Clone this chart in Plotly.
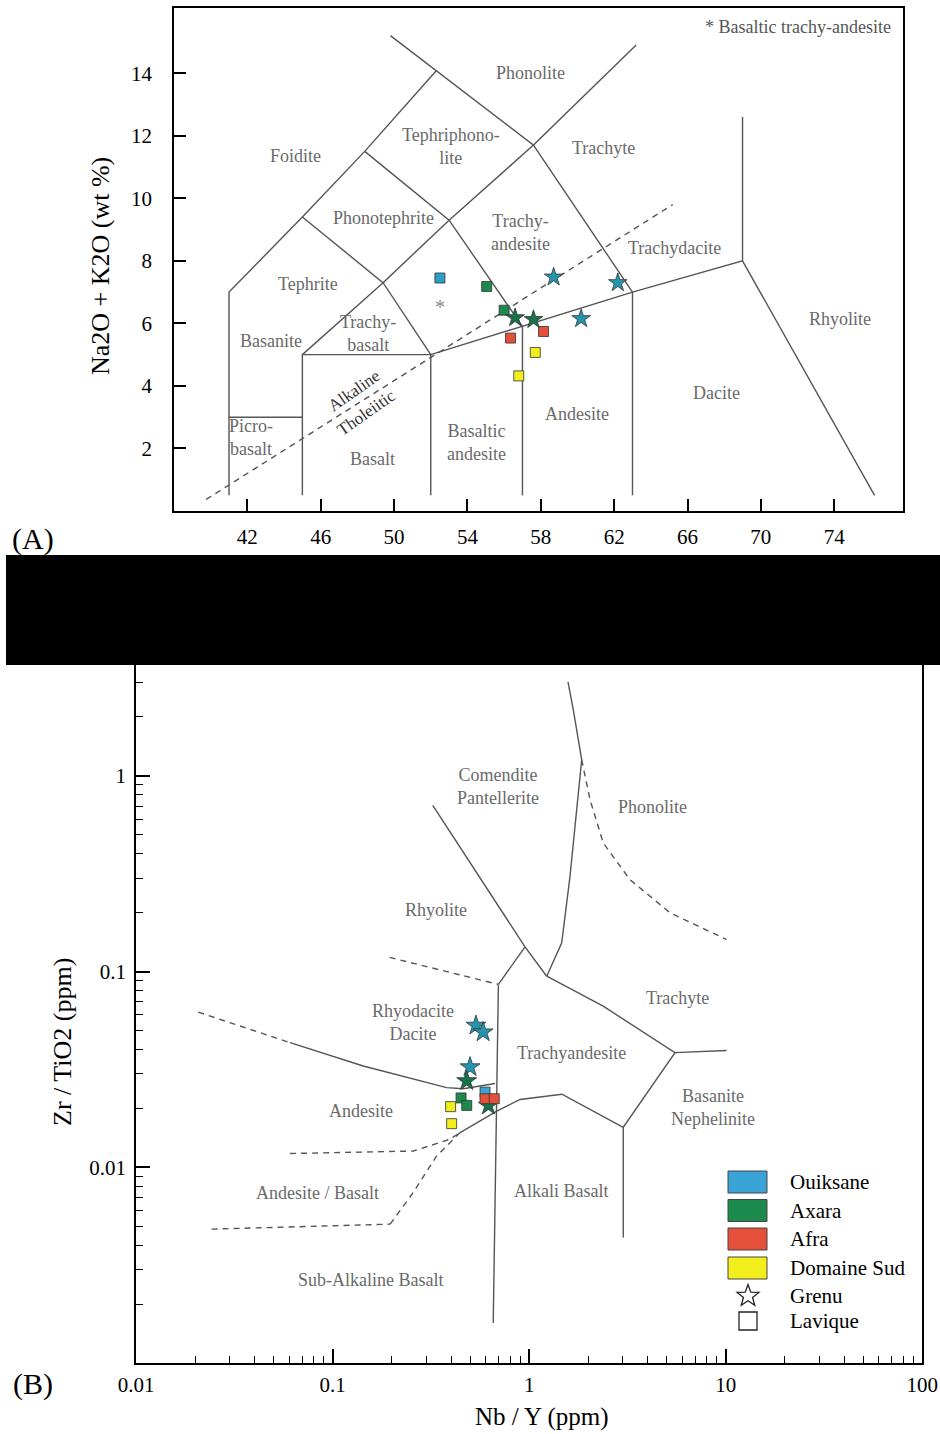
import math
import plotly.graph_objects as go

W, H = 940, 1434
OX, OY = 0, 0
FONT = "Liberation Serif"
LABEL_GRAY = "#6a6a6a"
LINE_GRAY = "#555555"

# ---------------- Panel A : TAS diagram (SiO2 vs Na2O+K2O) ----------------
tas_solid_lines = [
    [(41, 0.5), (41, 7), (45, 9.4), (48.4, 11.5), (52.3, 14.08)],
    [(49.8, 15.2), (52.3, 14.08), (57.6, 11.7), (63.2, 14.9)],
    [(41, 3), (45, 3)],
    [(45, 0.5), (45, 5), (52, 5), (52, 0.5)],
    [(45, 5), (49.4, 7.3), (52, 5)],
    [(45, 9.4), (49.4, 7.3), (53, 9.3), (57.6, 11.7)],
    [(48.4, 11.5), (53, 9.3), (57, 5.9)],
    [(52, 5), (57, 5.9), (63, 7), (69, 8), (76.2, 0.5)],
    [(57, 0.5), (57, 5.9)],
    [(63, 0.5), (63, 7), (57.6, 11.7)],
    [(69, 8), (69, 12.6)],
]
tas_dashed_line = [(39.75, 0.37), (65.2, 9.8)]

tas_labels = ["Phonolite", "Tephriphono-<br>lite", "Foidite", "Trachyte", "Phonotephrite",
              "Trachy-<br>andesite", "Trachydacite", "Tephrite", "Trachy-<br>basalt", "Basanite",
              "Rhyolite", "Dacite", "Andesite", "Basaltic<br>andesite", "Basalt", "Picro-<br>basalt"]
tas_label_x = [57.45, 53.1, 44.6, 61.4, 49.4, 56.9, 65.3, 45.3, 48.6, 43.3, 74.3, 67.6, 60.0, 54.5, 48.8, 42.2]
tas_label_y = [14.0, 11.65, 11.35, 11.6, 9.38, 8.9, 8.4, 7.26, 5.66, 5.44, 6.14, 3.78, 3.1, 2.18, 1.66, 2.34]

bta_marker = (52.5, 6.45)  # "*" Basaltic trachy-andesite

# samples (SiO2, Na2O+K2O)
a_ouik_lav_x, a_ouik_lav_y = [52.5], [7.45]
a_ouik_gre_x, a_ouik_gre_y = [58.7, 62.2, 60.2], [7.48, 7.3, 6.15]
a_axa_lav_x, a_axa_lav_y = [55.05, 56.0], [7.18, 6.42]
a_axa_gre_x, a_axa_gre_y = [56.6, 57.6], [6.18, 6.12]
a_afra_lav_x, a_afra_lav_y = [56.35, 58.15], [5.53, 5.74]
a_dsud_lav_x, a_dsud_lav_y = [57.7, 56.8], [5.07, 4.32]

a_xticks = [42, 46, 50, 54, 58, 62, 66, 70, 74]
a_yticks = [2, 4, 6, 8, 10, 12, 14]

# ---------------- Panel B : Zr/TiO2 vs Nb/Y (log-log) ----------------
wf_solid_lines = [
    [(0.323, 0.705), (0.952, 0.1336), (1.228, 0.0946)],
    [(1.575, 3.02), (1.677, 2.17), (1.85, 1.207), (1.711, 0.551), (1.613, 0.306), (1.464, 0.140), (1.228, 0.0946)],
    [(1.228, 0.0946), (2.38, 0.0665), (5.52, 0.0385), (3.01, 0.016), (3.01, 0.00438)],
    [(5.52, 0.0385), (10.1, 0.0395)],
    [(0.952, 0.1336), (0.697, 0.0859)],
    [(0.697, 0.0859), (0.656, 0.0016)],
    [(0.0607, 0.0433), (0.143, 0.0329), (0.38, 0.0255), (0.462, 0.0252), (0.67, 0.0268)],
    [(0.445, 0.01503), (0.684, 0.01937), (0.898, 0.0222), (1.38, 0.0236), (1.467, 0.0236), (3.01, 0.016)],
]
wf_dashed_lines = [
    [(1.85, 1.207), (2.04, 0.754), (2.38, 0.454), (3.26, 0.294), (5.21, 0.1995), (10.1, 0.1456)],
    [(0.195, 0.118), (0.697, 0.0859)],
    [(0.0207, 0.062), (0.0607, 0.0433)],
    [(0.196, 0.00512), (0.257, 0.00743), (0.338, 0.01142), (0.445, 0.01503)],
    [(0.0242, 0.00483), (0.196, 0.00512)],
    [(0.0607, 0.01175), (0.257, 0.0121), (0.395, 0.0139), (0.445, 0.01503)],
]

wf_labels = ["Comendite<br>Pantellerite", "Phonolite", "Rhyolite", "Trachyte", "Rhyodacite<br>Dacite",
             "Trachyandesite", "Andesite", "Basanite<br>Nephelinite", "Andesite / Basalt",
             "Alkali Basalt", "Sub-Alkaline Basalt"]
wf_label_x = [0.693, 4.26, 0.336, 5.71, 0.256, 1.65, 0.139, 8.61, 0.0841, 1.45, 0.155]
wf_label_y = [0.879, 0.695, 0.207, 0.0728, 0.055, 0.0382, 0.0193, 0.0202, 0.00736, 0.00755, 0.00265]

# samples (Nb/Y, Zr/TiO2)
b_ouik_gre_x, b_ouik_gre_y = [0.536, 0.583, 0.5], [0.053, 0.049, 0.0325]
b_axa_gre_x, b_axa_gre_y = [0.481, 0.62], [0.0276, 0.0207]
b_axa_lav_x, b_axa_lav_y = [0.45, 0.481], [0.0226, 0.0207]
b_ouik_lav_x, b_ouik_lav_y = [0.596], [0.0242]
b_afra_lav_x, b_afra_lav_y = [0.596, 0.664], [0.0224, 0.0224]
b_dsud_lav_x, b_dsud_lav_y = [0.398, 0.403], [0.0204, 0.0167]

b_ticks = [0.01, 0.1, 1, 10, 100]
b_ticktext = ["0.01", "0.1", "1", "10", "100"]
b_yticks = [0.01, 0.1, 1]
b_yticktext = ["0.01", "0.1", "1"]

groups = ["Ouiksane", "Axara", "Afra", "Domaine Sud"]
group_colors = ["#39a3d6", "#1b8a4c", "#e4503a", "#f2ee1c"]
star_colors = {"Ouiksane": "#2594ad", "Axara": "#17714a"}


def px(xp):
    return (xp - OX) / W


def py(yp):
    return 1 - (yp - OY) / H


def clamp(v):
    return min(1.0, max(0.0, v))


# ---------------- build figure ----------------
fig = go.Figure()


def add_line(pts, xa, ya, dash="solid", width=1.4):
    fig.add_trace(go.Scatter(x=[p[0] for p in pts], y=[p[1] for p in pts], mode="lines",
                             line=dict(color=LINE_GRAY, width=width, dash=dash),
                             xaxis=xa, yaxis=ya, hoverinfo="skip", showlegend=False))


for ln in tas_solid_lines:
    add_line(ln, "x", "y")
add_line(tas_dashed_line, "x", "y", dash="6px,5px")

for ln in wf_solid_lines:
    add_line(ln, "x2", "y2")
for ln in wf_dashed_lines:
    add_line(ln, "x2", "y2", dash="6px,5px")


def add_pts(xs, ys, color, symbol, size, xa, ya):
    fig.add_trace(go.Scatter(x=xs, y=ys, mode="markers",
                             marker=dict(color=color, symbol=symbol, size=size,
                                         line=dict(color="#333333", width=0.8)),
                             xaxis=xa, yaxis=ya, showlegend=False))


# Panel A points
fig.add_trace(go.Scatter(x=[bta_marker[0]], y=[bta_marker[1]], mode="text", text=["*"],
                         textfont=dict(family=FONT, size=20, color="#888888"),
                         xaxis="x", yaxis="y", showlegend=False))
add_pts(a_ouik_lav_x, a_ouik_lav_y, "#2aa0c4", "square", 10, "x", "y")
add_pts(a_axa_lav_x, a_axa_lav_y, group_colors[1], "square", 10, "x", "y")
add_pts(a_afra_lav_x, a_afra_lav_y, group_colors[2], "square", 10, "x", "y")
add_pts(a_dsud_lav_x, a_dsud_lav_y, group_colors[3], "square", 10, "x", "y")
add_pts(a_ouik_gre_x, a_ouik_gre_y, star_colors["Ouiksane"], "star", 14, "x", "y")
add_pts(a_axa_gre_x, a_axa_gre_y, star_colors["Axara"], "star", 14, "x", "y")

# Panel B points
add_pts(b_ouik_gre_x, b_ouik_gre_y, star_colors["Ouiksane"], "star", 15, "x2", "y2")
add_pts(b_axa_gre_x, b_axa_gre_y, star_colors["Axara"], "star", 15, "x2", "y2")
add_pts(b_axa_lav_x, b_axa_lav_y, group_colors[1], "square", 10, "x2", "y2")
add_pts(b_dsud_lav_x, b_dsud_lav_y, group_colors[3], "square", 10, "x2", "y2")
add_pts(b_ouik_lav_x, b_ouik_lav_y, group_colors[0], "square", 10, "x2", "y2")
add_pts(b_afra_lav_x, b_afra_lav_y, group_colors[2], "square", 10, "x2", "y2")


def ann(x, y, text, xref, yref, size, color, angle=0, xanchor="center"):
    return dict(x=x, y=y, xref=xref, yref=yref, text=text, showarrow=False,
                xanchor=xanchor, yanchor="middle", textangle=angle,
                font=dict(family=FONT, size=size, color=color))


annotations = []
for t, x, y in zip(tas_labels, tas_label_x, tas_label_y):
    annotations.append(ann(x, y, t, "x", "y", 18, LABEL_GRAY))
annotations.append(ann(47.85, 3.84, "Alkaline", "x", "y", 17, "#333333", angle=-35))
annotations.append(ann(48.5, 3.15, "Tholeiitic", "x", "y", 17, "#333333", angle=-35))

for t, x, y in zip(wf_labels, wf_label_x, wf_label_y):
    annotations.append(ann(math.log10(x), math.log10(y), t, "x2", "y2", 18, LABEL_GRAY))

annotations += [
    ann(px(798), py(27), "* Basaltic trachy-andesite", "paper", "paper", 18, "#555555"),
    ann(px(100), py(266), "Na2O + K2O (wt %)", "paper", "paper", 26, "black", angle=-90),
    ann(px(62), py(1042), "Zr / TiO2 (ppm)", "paper", "paper", 26, "black", angle=-90),
    ann(px(542), py(1417), "Nb / Y (ppm)", "paper", "paper", 25, "black"),
    ann(px(33), py(539), "(A)", "paper", "paper", 30, "black"),
    ann(px(33), py(1384), "(B)", "paper", "paper", 30, "black"),
]

shapes = [
    dict(type="rect", xref="paper", yref="paper", x0=clamp(px(6)), x1=1.0, y0=py(665), y1=py(555),
         fillcolor="black", line=dict(width=0), layer="above"),
]

# legend (drawn manually)
leg_rows = [1182, 1210.5, 1239, 1268]
for g, c, r in zip(groups, group_colors, leg_rows):
    shapes.append(dict(type="rect", xref="paper", yref="paper", x0=px(728), x1=px(767),
                       y0=py(r + 11), y1=py(r - 11), fillcolor=c,
                       line=dict(color="#444444", width=1)))
    annotations.append(ann(px(788), py(r), g, "paper", "paper", 21, "black", xanchor="left"))
# star outline
cx, cy, ro, ri = 748, 1296, 11.5, 4.8
pts = []
for k in range(10):
    ang = -math.pi / 2 + k * math.pi / 5
    r = ro if k % 2 == 0 else ri
    pts.append((px(cx + r * math.cos(ang)), py(cy + r * math.sin(ang))))
path = "M " + " L ".join(f"{a:.5f},{b:.5f}" for a, b in pts) + " Z"
shapes.append(dict(type="path", xref="paper", yref="paper", path=path,
                   line=dict(color="#222222", width=1.3), fillcolor="rgba(0,0,0,0)"))
annotations.append(ann(px(788), py(1296), "Grenu", "paper", "paper", 21, "black", xanchor="left"))
shapes.append(dict(type="rect", xref="paper", yref="paper", x0=px(739), x1=px(757),
                   y0=py(1330), y1=py(1312), line=dict(color="#222222", width=1.3)))
annotations.append(ann(px(788), py(1321), "Lavique", "paper", "paper", 21, "black", xanchor="left"))

tickfont = dict(family=FONT, size=21, color="black")
minor_vals = [k * 10 ** e for e in range(-3, 2) for k in range(2, 10)]

fig.update_layout(
    width=W, height=H, margin=dict(l=0, r=0, t=0, b=0, autoexpand=False),
    paper_bgcolor="white", plot_bgcolor="white", showlegend=False,
    xaxis=dict(domain=[clamp(px(174)), clamp(px(903))], range=[38, 77.75], anchor="y", automargin=False,
               showline=True, linecolor="black", linewidth=1.5, mirror=True,
               ticks="inside", ticklen=12, tickwidth=1.5, tickcolor="black",
               tickvals=a_xticks, showgrid=False, zeroline=False, tickfont=tickfont,
               ticklabelstandoff=6),
    yaxis=dict(domain=[clamp(py(511)), clamp(py(7.5))], range=[0, 16.1], anchor="x", automargin=False,
               showline=True, linecolor="black", linewidth=1.5, mirror=True,
               ticks="inside", ticklen=12, tickwidth=1.5, tickcolor="black",
               tickvals=a_yticks, showgrid=False, zeroline=False, tickfont=tickfont,
               ticklabelstandoff=16),
    xaxis2=dict(type="log", domain=[clamp(px(136.2)), clamp(px(922.2))], range=[-2, 2], anchor="y2",
                automargin=False,
                showline=True, linecolor="black", linewidth=2, mirror=True,
                ticks="inside", ticklen=14, tickwidth=1.5, tickcolor="black",
                tickvals=b_ticks, ticktext=b_ticktext, showgrid=False, zeroline=False,
                tickfont=tickfont, ticklabelstandoff=2,
                minor=dict(ticks="inside", ticklen=7, tickwidth=1.3, tickcolor="black",
                           tickvals=minor_vals, showgrid=False)),
    yaxis2=dict(type="log", domain=[clamp(py(1363)), clamp(py(580))], range=[-3, 1], anchor="x2",
                automargin=False,
                showline=True, linecolor="black", linewidth=2, mirror=True,
                ticks="inside", ticklen=14, tickwidth=1.5, tickcolor="black",
                tickvals=b_yticks, ticktext=b_yticktext, showgrid=False, zeroline=False,
                tickfont=tickfont, ticklabelstandoff=4,
                minor=dict(ticks="inside", ticklen=7, tickwidth=1.3, tickcolor="black",
                           tickvals=minor_vals, showgrid=False)),
    annotations=annotations, shapes=shapes,
)

fig.write_html(
    "out.html",
    config={"displayModeBar": False},
    post_script="document.body.style.margin='0';document.documentElement.style.overflow='hidden';",
)
